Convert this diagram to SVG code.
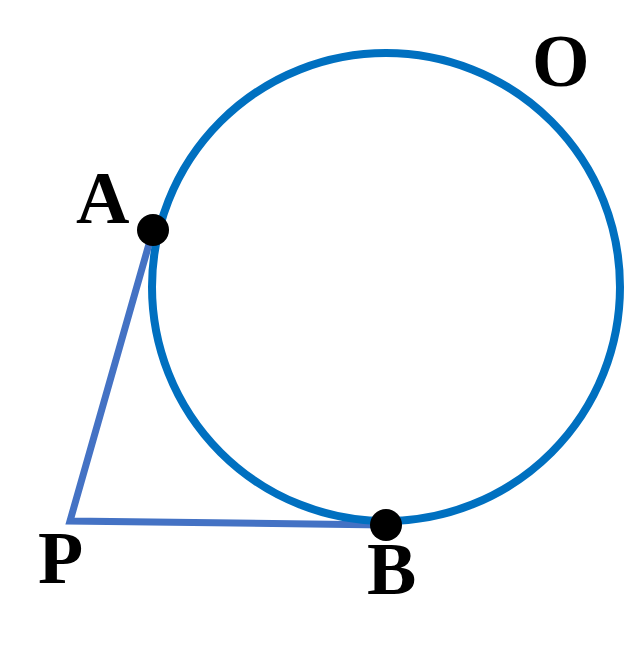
<svg xmlns="http://www.w3.org/2000/svg" width="628" height="650" viewBox="0 0 628 650">
<style>
.lbl{font-family:"Liberation Serif","Times New Roman",serif;font-weight:bold;font-size:74px;fill:#000}
.seg{stroke:#4472C4;stroke-width:7;fill:none;stroke-linejoin:miter}
</style>
<rect width="628" height="650" fill="#fff"/>
<g id="connectors">
<polyline class="seg" points="153,230 70,521 386,525"/>
</g>
<g id="circleO">
<circle cx="386" cy="287" r="234" fill="none" stroke="#0070C0" stroke-width="8"/>
</g>
<g id="A"><circle cx="153" cy="230" r="16" fill="#000"/><text class="lbl" x="76" y="223">A</text></g>
<g id="B"><circle cx="386" cy="525" r="16" fill="#000"/><text class="lbl" x="367" y="594">B</text></g>
<g id="P"><text class="lbl" x="38" y="583">P</text></g>
<g id="O"><text class="lbl" x="532" y="86">O</text></g>
</svg>
